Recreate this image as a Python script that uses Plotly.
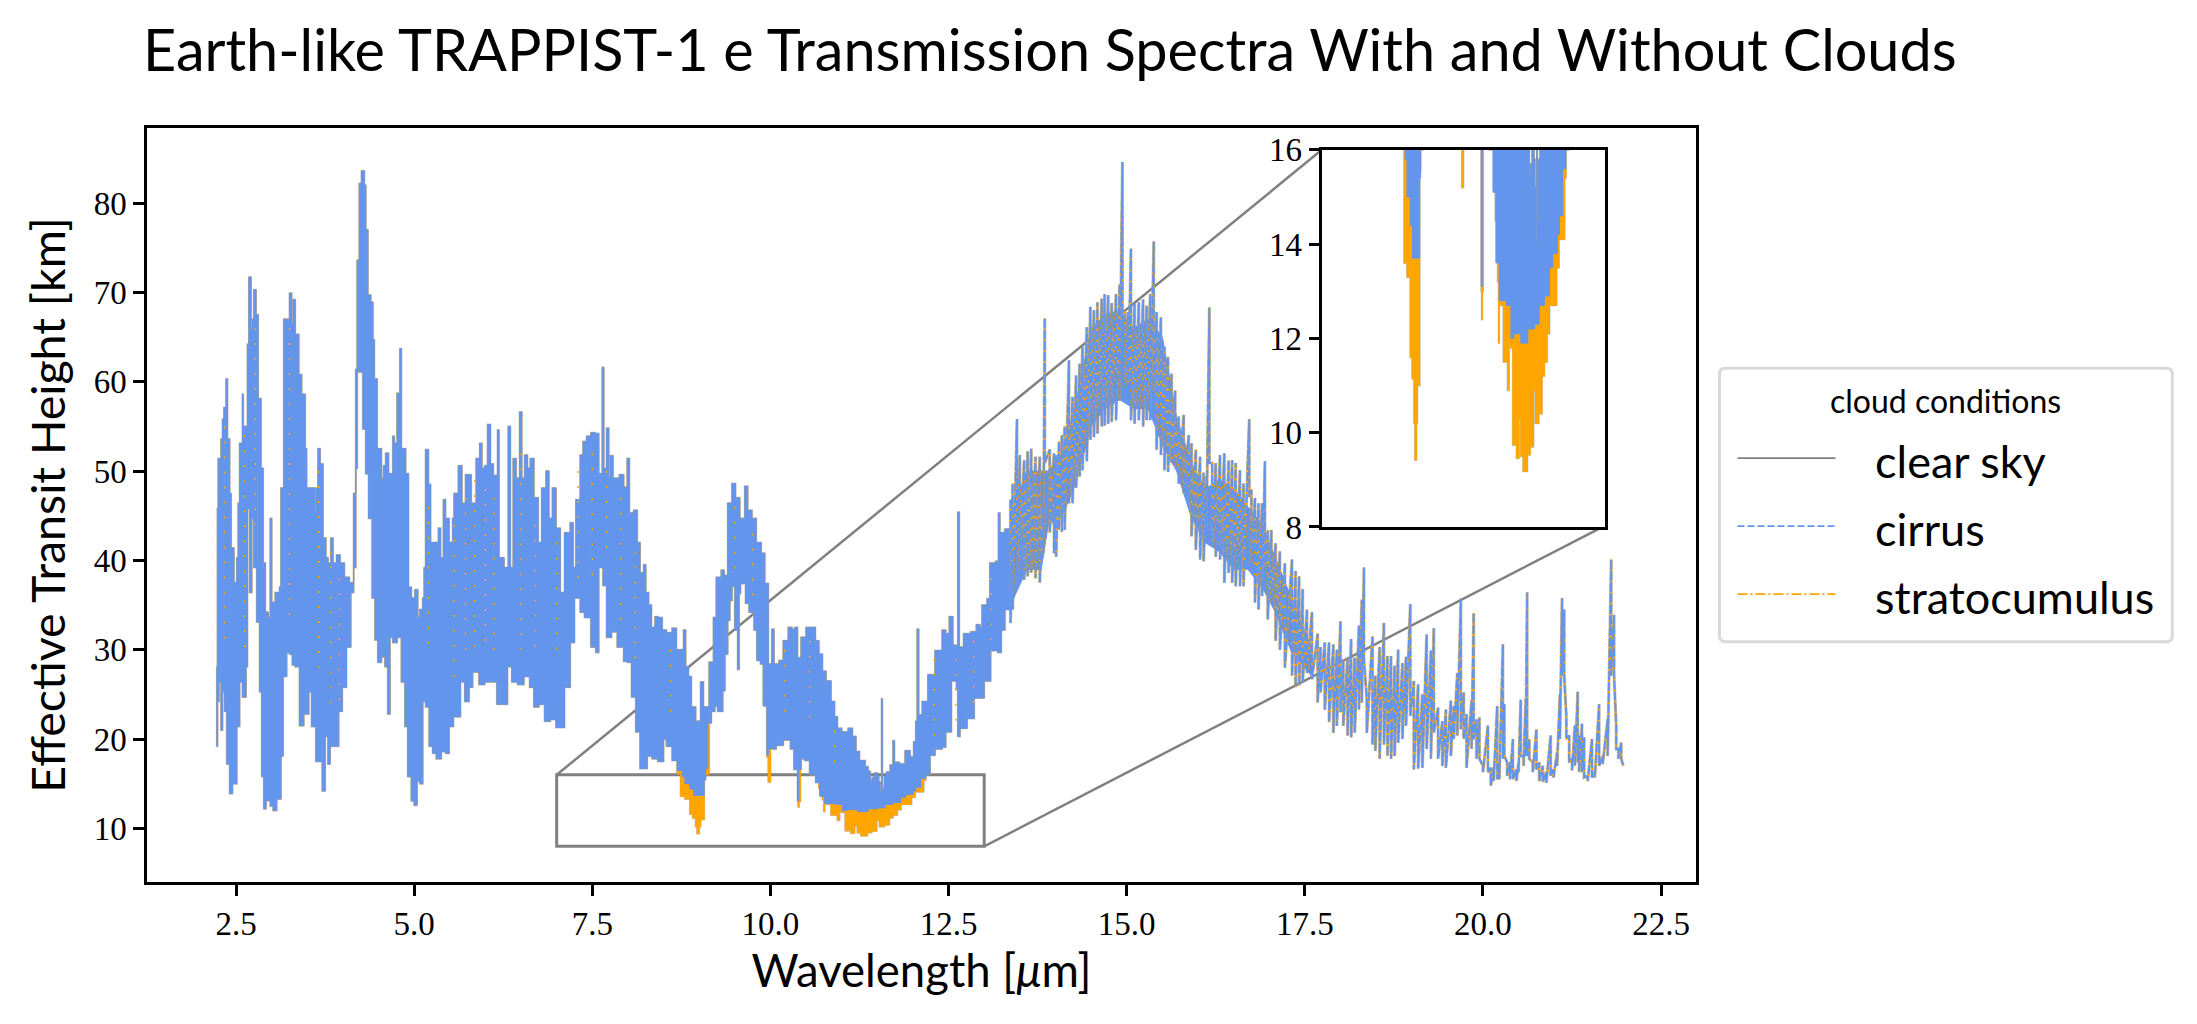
import plotly.graph_objects as go

# ---- solid part of the spectrum (wavelength in um, height in km) ----
upper_wavelength = [2.23,2.25,2.29,2.31,2.33,2.35,2.36,2.38,2.41,2.43,2.47,2.51,2.53,2.55,2.59,2.60,2.64,2.66,2.68,2.71,2.73,2.75,2.78,2.81,2.85,2.88,2.91,2.95,2.98,3.00,3.05,3.11,3.13,3.17,3.22,3.25,3.28,3.30,3.33,3.38,3.42,3.47,3.49,3.56,3.61,3.63,3.65,3.68,3.70,3.72,3.76,3.79,3.83,3.86,3.91,3.96,4.02,4.09,4.15,4.18,4.20,4.23,4.26,4.30,4.32,4.35,4.39,4.42,4.44,4.48,4.54,4.57,4.60,4.64,4.70,4.72,4.76,4.79,4.80,4.82,4.88,4.91,4.92,4.96,5.01,5.05,5.08,5.12,5.14,5.16,5.20,5.23,5.34,5.37,5.41,5.44,5.49,5.54,5.56,5.62,5.67,5.72,5.76,5.80,5.87,5.92,5.95,5.99,6.03,6.07,6.11,6.17,6.19,6.26,6.32,6.35,6.39,6.43,6.48,6.51,6.55,6.59,6.63,6.68,6.74,6.79,6.85,6.89,6.94,6.99,7.05,7.11,7.19,7.23,7.27,7.33,7.37,7.42,7.48,7.54,7.59,7.64,7.66,7.70,7.73,7.75,7.79,7.88,7.94,7.99,8.02,8.08,8.13,8.17,8.22,8.25,8.29,8.33,8.38,8.42,8.48,8.54,8.62,8.68,8.78,8.81,8.85,8.89,8.95,9.02,9.06,9.14,9.20,9.24,9.31,9.35,9.40,9.46,9.51,9.57,9.64,9.68,9.74,9.80,9.87,9.92,9.97,10.02,10.05,10.12,10.18,10.25,10.30,10.34,10.38,10.43,10.50,10.58,10.63,10.68,10.73,10.78,10.85,10.90,10.94,11.00,11.09,11.15,11.20,11.25,11.33,11.37,11.40,11.43,11.46,11.50,11.52,11.54,11.56,11.57,11.60,11.63,11.68,11.72,11.74,11.81,11.89,11.96,12.01,12.04,12.06,12.08,12.13,12.21,12.31,12.41,12.46,12.51,12.56,12.60,12.63,12.65,12.71,12.81,12.89,12.94,12.97,13.04,13.08,13.16,13.20,13.22,13.29,13.37]
upper_height = [45.8,51.4,53.6,55.8,57.1,56.1,60.3,53.6,47.5,41.4,37.5,40.3,46.4,53.1,58.6,55.0,55.0,64.2,71.7,65.8,67.0,70.3,67.5,58.1,50.3,39.7,34.2,33.6,44.7,35.3,36.4,37.0,48.1,67.0,67.0,69.9,66.4,69.2,65.3,60.8,58.6,52.5,48.1,48.1,45.3,48.1,52.5,50.8,50.8,42.5,40.3,39.7,42.5,39.7,40.6,39.7,38.1,37.5,39.2,50.3,73.6,82.2,83.6,82.0,77.0,69.7,68.9,64.7,60.3,52.5,49.2,50.6,52.0,49.7,53.9,53.1,58.7,58.6,63.7,52.5,49.7,49.7,37.0,35.8,36.7,33.6,34.5,35.8,39.2,52.4,48.5,42.0,43.6,40.3,46.8,44.7,42.0,44.7,47.5,50.6,46.4,49.6,49.6,46.4,51.4,53.1,50.3,50.6,55.2,50.8,49.5,54.6,40.3,39.2,55.0,39.2,51.4,49.2,56.6,49.2,51.8,50.3,51.4,47.0,42.0,48.1,50.0,44.7,48.1,43.6,36.4,43.1,44.2,39.2,46.8,51.8,53.3,53.9,54.3,54.2,49.7,61.6,50.3,54.8,49.2,51.7,49.2,49.6,48.2,51.4,45.3,45.6,42.0,38.6,39.5,36.4,35.0,32.5,33.7,33.6,32.2,31.9,32.4,30.0,32.2,28.1,27.0,23.6,22.0,26.4,23.6,28.6,33.6,38.1,38.9,38.3,46.4,48.6,47.0,44.7,48.3,45.6,44.7,42.0,40.8,37.4,28.4,32.3,28.4,28.8,31.0,32.5,32.3,32.5,29.1,31.4,32.5,32.5,31.0,29.5,27.6,26.5,24.2,22.5,21.2,20.8,21.2,20.3,18.6,17.6,16.9,16.4,15.4,15.7,16.2,15.8,15.2,14.0,24.5,14.5,15.8,16.3,17.1,19.8,17.4,17.2,18.7,18.0,19.7,22.0,32.3,22.7,24.2,27.2,29.9,32.2,31.8,33.7,30.5,30.5,45.4,30.3,31.8,32.0,32.8,32.5,35.0,35.7,39.7,39.9,45.3,43.1,43.5,45.0]

cirrus_lower_wavelength = [2.23,2.24,2.26,2.29,2.31,2.34,2.37,2.41,2.45,2.51,2.55,2.59,2.64,2.66,2.69,2.72,2.75,2.79,2.83,2.86,2.89,2.92,2.98,3.02,3.07,3.13,3.16,3.21,3.25,3.29,3.33,3.39,3.45,3.52,3.56,3.62,3.66,3.71,3.75,3.79,3.82,3.88,3.94,3.99,4.05,4.11,4.15,4.18,4.22,4.28,4.32,4.36,4.41,4.45,4.49,4.54,4.59,4.63,4.66,4.70,4.76,4.82,4.87,4.91,4.96,5.00,5.04,5.08,5.12,5.16,5.21,5.26,5.31,5.38,5.44,5.49,5.55,5.65,5.71,5.77,5.82,5.91,5.99,6.08,6.16,6.22,6.31,6.37,6.45,6.54,6.62,6.68,6.75,6.83,6.91,6.99,7.11,7.19,7.25,7.33,7.39,7.48,7.55,7.59,7.65,7.70,7.77,7.85,7.94,7.99,8.05,8.11,8.17,8.27,8.34,8.42,8.50,8.54,8.62,8.69,8.76,8.80,8.87,8.92,9.00,9.07,9.09,9.12,9.17,9.22,9.26,9.33,9.36,9.40,9.43,9.46,9.50,9.54,9.56,9.58,9.65,9.70,9.77,9.81,9.86,9.90,9.91,9.95,9.97,10.01,10.08,10.18,10.28,10.33,10.38,10.40,10.43,10.48,10.55,10.63,10.69,10.76,10.82,10.91,11.01,11.07,11.22,11.37,11.51,11.61,11.72,11.83,11.90,12.00,12.04,12.11,12.18,12.24,12.31,12.41,12.46,12.54,12.61,12.63,12.66,12.76,12.86,13.00,13.09,13.19,13.24,13.29,13.37]
cirrus_lower_height = [28.1,19.2,24.2,26.4,21.0,25.3,23.1,17.2,13.9,15.0,21.4,26.4,24.7,28.1,45.8,36.4,44.7,39.2,33.1,25.3,15.8,12.2,13.1,12.5,12.0,13.3,18.1,27.0,29.7,29.5,28.3,28.1,21.5,22.8,25.3,21.4,17.5,17.5,14.2,20.3,17.2,19.2,19.2,23.1,25.8,30.3,36.4,47.5,61.4,61.1,54.7,49.7,44.7,35.8,31.1,28.6,29.2,28.1,22.8,31.4,30.8,31.4,26.4,21.4,15.8,13.1,12.6,15.3,15.0,24.2,23.6,19.2,18.4,17.8,18.6,18.4,21.4,22.5,26.4,24.2,25.8,27.5,26.1,26.4,26.4,23.9,23.9,28.1,26.4,26.1,27.0,25.8,23.6,23.9,22.0,22.2,21.3,25.8,30.8,35.8,34.2,33.6,30.3,29.7,39.2,37.2,31.4,32.0,30.3,28.7,28.6,24.7,20.8,16.7,18.1,17.8,17.5,20.0,19.2,17.6,16.5,15.8,15.0,14.4,13.7,13.7,15.4,16.7,21.8,23.1,23.7,23.1,25.4,29.5,33.3,35.5,37.1,32.2,27.8,36.3,37.4,35.2,34.2,32.2,28.8,28.4,23.8,23.7,18.2,18.9,18.9,19.3,19.9,18.9,16.6,13.1,16.6,17.8,17.6,16.0,15.1,13.6,12.8,12.8,12.7,12.0,12.1,11.9,12.2,12.3,12.7,12.9,13.5,13.8,14.2,14.6,15.6,16.0,18.2,18.9,19.1,20.8,26.5,25.6,20.3,21.2,22.3,24.6,26.5,29.9,29.7,32.2,34.5]

# where the stratocumulus spectrum reaches lower than the cirrus one
strato_dip_wavelength = [8.74,8.80,8.87,8.91,8.95,8.97,9.00,9.02,9.05,9.07,9.09,9.14,9.97,10.00,10.02,10.38,10.39,10.40,10.42,10.43,10.64,10.68,10.73,10.75,10.76,10.79,10.85,10.88,10.94,10.97,11.00,11.05,11.07,11.13,11.18,11.22,11.27,11.36,11.42,11.49,11.53,11.60,11.67,11.72,11.78,11.83,11.86,11.98,12.03,12.08,12.15,12.18,12.24]
strato_dip_height = [16.1,13.6,13.3,11.6,11.15,10.2,9.42,10.2,11.0,11.0,15.56,16.0,18.0,15.2,18.9,16.6,13.0,12.4,13.0,16.6,16.0,15.2,14.5,13.2,11.9,12.8,12.7,11.5,11.5,10.9,11.9,11.8,9.74,9.74,9.46,10.3,9.5,9.18,9.53,9.7,10.9,10.2,10.4,11.2,11.5,12.1,12.7,12.7,13.5,14.1,14.1,15.4,16.0]

# orange of the stratocumulus line showing through the gaps of the dashed cirrus line
speck_wavelength = [2.34,2.62,2.77,3.25,3.66,3.83,3.95,5.20,5.56,5.72,5.85,6.00,6.12,6.50,6.70,7.00,7.30,7.50,7.70,7.90,8.10,8.60,9.50,9.75,10.20,10.55,10.90,12.30,12.60,12.85,13.10]
speck_top = [55,54,66,66,50,41,38,46,44,47,49,48,47,52,44,42,50,52,50,47,41,30,46,43,30,31,21,29,29,31,38]
speck_bottom = [30,30,44,33,28,24,24,30,26,30,30,30,30,30,30,30,37,37,40,33,28,22,38,36,22,22,16,20,22,24,28]

# solid core of the dense line forest from 13.4 to 17.6 um
core_wavelength = [13.37,13.60,13.80,13.90,14.10,14.30,14.50,14.70,14.90,15.10,15.30,15.50,15.70,15.90,16.10,16.30,16.50,16.70,16.90,17.10,17.30,17.60]
core_top = [45,50,50,50,52,58,66,67.5,68,66,67,65,56,51,48,49,48,46,44,40,36,30]
core_bottom = [35,39,39,44,45,49,55,57,58,57,57,53,50,45,42,41,39,39,37,34,30,27]

# individual lines of the spectrum from 13.4 um onward: wavelength, crest, trough
line_wavelength = [13.37,13.40,13.46,13.50,13.56,13.61,13.66,13.72,13.78,13.83,13.85,13.92,13.98,14.01,14.05,14.09,14.13,14.19,14.24,14.29,14.34,14.38,14.44,14.49,14.54,14.59,14.65,14.69,14.74,14.79,14.85,14.90,14.94,14.98,15.02,15.06,15.11,15.17,15.23,15.28,15.33,15.38,15.42,15.48,15.53,15.58,15.63,15.68,15.73,15.80,15.87,15.91,15.97,16.03,16.08,16.12,16.16,16.20,16.25,16.31,16.37,16.43,16.48,16.53,16.59,16.64,16.72,16.75,16.80,16.85,16.90,16.94,16.98,17.03,17.09,17.15,17.22,
    17.32,17.37,17.42,17.47,17.53,17.60,17.68,17.72,17.78,17.84,17.90,17.95,18.00,18.04,18.10,18.15,18.20,18.26,18.30,18.33,18.37,18.45,18.49,18.55,18.61,18.66,18.71,18.76,18.81,18.87,18.92,18.98,19.03,19.09,19.15,19.21,19.27,19.31,19.37,19.43,19.48,19.55,19.59,19.64,19.69,19.73,19.77,19.84,19.87,19.91,
    19.95,20.00,20.07,20.11,20.15,20.20,20.23,20.28,20.30,20.34,20.38,20.42,20.47,20.50,20.53,20.57,20.60,20.62,20.65,20.70,20.75,20.79,20.84,20.89,20.95,20.99,21.04,21.08,21.11,21.14,21.17,21.21,21.25,21.29,21.33,21.35,21.39,21.42,21.47,21.53,21.57,21.63,21.68,21.75,21.80,21.84,21.87,21.90,21.94,21.97]
line_crest = [46.8,48.6,55.8,51.8,51.2,52.2,52.5,51.6,51.6,47.5,67.1,52.4,52.0,51.8,53.3,54.0,55.0,62.4,58.3,60.7,62.0,63.9,66.1,68.4,68.0,68.9,69.3,69.8,69.7,68.8,69.8,70.9,84.6,67.6,67.8,74.9,68.7,68.9,69.2,68.5,69.8,75.7,67.8,67.2,63.9,62.8,60.9,59.0,56.1,56.3,54.0,53.1,52.4,51.6,49.8,49.4,68.3,50.9,50.9,51.8,52.0,51.2,51.2,50.9,50.1,48.6,55.8,47.9,47.0,46.4,46.4,51.1,43.4,43.4,41.9,41.0,39.7,
    40.1,38.8,38.2,36.8,34.5,34.2,31.8,30.3,30.8,30.8,30.6,30.0,33.2,28.9,29.1,31.2,29.1,32.7,35.6,39.2,24.5,31.5,27.1,30.3,33.0,29.3,29.3,28.2,30.0,28.5,29.2,35.1,26.5,26.1,25.0,31.7,29.9,32.4,23.5,22.0,23.3,24.3,23.7,27.4,35.7,25.2,22.8,24.3,34.1,22.2,
    22.4,17.0,21.5,16.8,16.8,23.7,17.4,30.6,23.9,17.4,17.4,20.0,16.6,17.4,24.4,18.1,24.5,36.4,20.0,17.4,21.1,17.4,17.0,16.3,20.4,16.6,18.5,25.0,35.8,34.5,22.6,20.4,17.8,21.5,25.3,20.4,21.7,20.2,15.9,20.0,16.3,23.9,18.1,22.2,40.1,33.9,21.5,18.9,19.6,17.0]
line_trough = [33.0,34.5,39.0,39.0,37.8,38.2,38.6,38.0,37.5,40.8,50.9,43.1,40.8,40.4,43.4,43.2,43.4,46.4,46.4,48.1,49.4,50.1,51.1,53.5,53.8,54.2,55.0,55.1,55.3,55.5,55.7,57.9,68.0,59.4,59.4,55.7,55.3,55.7,55.0,55.7,55.7,59.0,52.4,51.8,50.1,49.9,50.9,50.5,48.6,47.5,46.0,42.7,41.2,40.1,39.9,43.4,50.9,41.6,40.4,40.1,37.5,38.6,37.5,37.1,37.1,37.1,47.1,39.7,35.3,34.5,36.0,39.0,33.4,35.3,31.0,30.0,28.0,
    27.1,25.8,26.0,26.3,27.4,26.7,24.1,25.2,23.3,21.9,20.7,21.5,23.0,21.5,20.4,20.2,20.7,23.3,24.1,28.9,20.7,19.4,18.7,17.8,19.4,18.1,17.8,18.1,19.6,20.0,21.5,22.6,16.6,16.7,16.8,18.9,17.8,20.7,17.8,17.0,16.8,18.1,20.0,20.4,21.1,20.0,16.8,18.9,20.0,17.8,
    17.8,16.3,16.3,14.8,15.3,15.5,15.5,17.8,18.1,15.9,15.5,15.5,15.3,16.3,18.1,17.0,18.1,18.1,17.8,16.3,16.6,15.3,15.2,15.1,15.9,15.7,17.0,20.0,27.1,27.1,20.0,17.4,16.5,17.0,17.4,16.3,16.3,15.7,15.3,15.7,15.7,17.0,17.2,18.1,27.1,27.1,18.9,17.8,17.8,17.0]

legend_names = ["clear sky", "cirrus", "stratocumulus"]
legend_title = "cloud conditions"
x_ticks = [2.5, 5.0, 7.5, 10.0, 12.5, 15.0, 17.5, 20.0, 22.5]
y_ticks = [10, 20, 30, 40, 50, 60, 70, 80]
inset_ticks = [8, 10, 12, 14, 16]

GRAY, BLUE, ORANGE = "#808080", "#6495ed", "#ffa500"
SANS, SERIF = "Lato", "Liberation Serif"
BLUE_DASH, ORANGE_DASH = "7px,3px", "10px,3px,2px,3px"

# stratocumulus floor: the cirrus floor with its deeper dips put in
dip_ranges = [(8.74, 9.14), (9.97, 10.02), (10.38, 10.43), (10.64, 12.24)]
strato_floor = sorted(
    [p for p in zip(cirrus_lower_wavelength, cirrus_lower_height)
     if not any(a <= p[0] <= b for a, b in dip_ranges)]
    + list(zip(strato_dip_wavelength, strato_dip_height))
)
strato_lower_wavelength = [p[0] for p in strato_floor]
strato_lower_height = [p[1] for p in strato_floor]


def outline(lower_x, lower_y):
    return upper_wavelength + lower_x[::-1], upper_height + lower_y[::-1]


fig = go.Figure()
for xa, ya in (("x", "y"), ("x2", "y2")):
    ox, oy = outline(strato_lower_wavelength, strato_lower_height)
    fig.add_trace(go.Scatter(x=ox, y=oy, mode="lines", fill="toself", fillcolor=GRAY,
                             line=dict(color=GRAY, width=2, shape="hv"), xaxis=xa, yaxis=ya,
                             opacity=0.45, showlegend=False, hoverinfo="skip"))
    fig.add_trace(go.Scatter(x=ox, y=oy, mode="lines", fill="toself", fillcolor=ORANGE,
                             line=dict(color=ORANGE, width=1, shape="hv"), xaxis=xa, yaxis=ya,
                             showlegend=False, hoverinfo="skip"))
    ox, oy = outline(cirrus_lower_wavelength, cirrus_lower_height)
    fig.add_trace(go.Scatter(x=ox, y=oy, mode="lines", fill="toself", fillcolor=BLUE,
                             line=dict(color=BLUE, width=1, shape="hv"), xaxis=xa, yaxis=ya,
                             showlegend=False, hoverinfo="skip"))

fig.add_trace(go.Scatter(x=core_wavelength + core_wavelength[::-1],
                         y=core_top + core_bottom[::-1], mode="lines", fill="toself",
                         fillcolor=BLUE, line=dict(color=BLUE, width=1),
                         showlegend=False, hoverinfo="skip"))

speck_x, speck_y = [], []
for w, t, b in zip(speck_wavelength, speck_top, speck_bottom):
    speck_x += [w, w, None]
    speck_y += [t, b, None]
fig.add_trace(go.Scatter(x=speck_x, y=speck_y, mode="lines",
                         line=dict(color=ORANGE, width=1.5, dash="2px,13px"),
                         showlegend=False, hoverinfo="skip"))

comb_x, comb_y = [], []
for w, c, t in zip(line_wavelength, line_crest, line_trough):
    comb_x += [w, w]
    comb_y += [c, t]
fig.add_trace(go.Scatter(x=comb_x, y=comb_y, mode="lines", opacity=0.4,
                         line=dict(color=GRAY, width=3.2), showlegend=False, hoverinfo="skip"))
fig.add_trace(go.Scatter(x=comb_x, y=comb_y, mode="lines",
                         line=dict(color=ORANGE, width=2), showlegend=False, hoverinfo="skip"))
fig.add_trace(go.Scatter(x=comb_x, y=comb_y, mode="lines",
                         line=dict(color=BLUE, width=2, dash="9px,2px"),
                         showlegend=False, hoverinfo="skip"))

styles = [(GRAY, "solid"), (BLUE, BLUE_DASH), (ORANGE, ORANGE_DASH)]
for name, (color, dash) in zip(legend_names, styles):
    fig.add_trace(go.Scatter(
        x=[None], y=[None], mode="lines",
        name=f'<span style="font-size:45px">\u00a0\u00a0\u00a0{name}</span>',
        line=dict(color=color, width=1.6, dash=dash)))

L, R, T, B = 147.0, 1696.5, 127.5, 882.5
PW, PH = R - L, B - T
W, H = 2197, 1024


def px(X):
    return (X - L) / PW


def py(Y):
    return (B - Y) / PH


axis_style = dict(showline=True, linecolor="black", linewidth=2.5, mirror=True,
                  showgrid=False, zeroline=False, ticks="outside", tickcolor="black",
                  tickwidth=2.5, ticklen=11,
                  tickfont=dict(family=SERIF, size=33, color="black"))

fig.update_layout(
    width=W, height=H, autosize=False,
    margin=dict(l=L, r=W - R, t=T, b=H - B, pad=0),
    paper_bgcolor="white", plot_bgcolor="white",
    title=dict(text="Earth-like TRAPPIST-1 e Transmission Spectra With and Without Clouds",
               x=143 / W, xanchor="left", xref="container",
               y=1 - 51 / H, yanchor="middle", yref="container",
               font=dict(family=SANS, size=57.55, color="black")),
    xaxis=dict(range=[1.25, 22.99], tickvals=x_ticks, ticktext=[f"{v:.1f}" for v in x_ticks],
               title=dict(text="Wavelength [<i>μ</i>m]", font=dict(family=SANS, size=45.5, color="black"),
                          standoff=12), **axis_style),
    yaxis=dict(range=[4.0, 88.4], tickvals=y_ticks,
               title=dict(text="Effective Transit Height [km]",
                          font=dict(family=SANS, size=46.5, color="black"), standoff=14), **axis_style),
    xaxis2=dict(domain=[px(1322.7), px(1605)], range=[7, 13], anchor="y2",
                showline=True, linecolor="black", linewidth=2.5, mirror=True,
                showgrid=False, zeroline=False, ticks="", showticklabels=False),
    yaxis2=dict(domain=[py(527), py(149.3)], range=[8, 16], anchor="x2", tickvals=inset_ticks,
                **axis_style),
    legend=dict(x=px(1733), y=py(419), xanchor="left", yanchor="top",
                bgcolor="rgba(0,0,0,0)", borderwidth=0, itemwidth=98,
                font=dict(family=SANS, size=50, color="black")),
    annotations=[dict(text=legend_title, xref="paper", yref="paper", x=px(1946.5), y=py(400),
                      xanchor="center", yanchor="middle", showarrow=False,
                      font=dict(family=SANS, size=32, color="black"))],
    shapes=[
        dict(type="rect", xref="x", yref="y", x0=7, x1=13, y0=8, y1=16, layer="below",
             line=dict(color=GRAY, width=3)),
        dict(type="line", xref="x", yref="y", x0=7, y0=16, x1=17.73, y1=85.9, layer="below",
             line=dict(color=GRAY, width=2.5)),
        dict(type="line", xref="x", yref="y", x0=13, y0=8, x1=21.68, y1=43.76, layer="below",
             line=dict(color=GRAY, width=2.5)),
        dict(type="path", xref="paper", yref="paper", layer="below",
             path=(f"M {px(1726)} {py(368)} L {px(2167)} {py(368)} "
                   f"Q {px(2173)} {py(368)} {px(2173)} {py(374)} L {px(2173)} {py(636)} "
                   f"Q {px(2173)} {py(642)} {px(2167)} {py(642)} L {px(1726)} {py(642)} "
                   f"Q {px(1720)} {py(642)} {px(1720)} {py(636)} L {px(1720)} {py(374)} "
                   f"Q {px(1720)} {py(368)} {px(1726)} {py(368)} Z"),
             line=dict(color="#d9d9d9", width=3)),
    ],
)

fig.write_html("out.html", config={"displayModeBar": False},
               post_script="document.body.style.margin='0';")
